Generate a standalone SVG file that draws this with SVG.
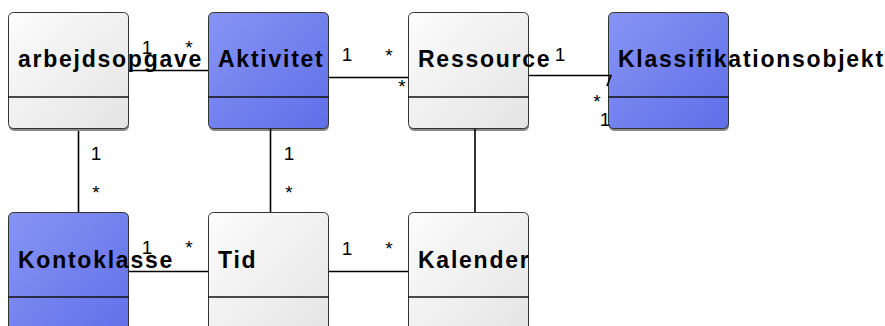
<svg xmlns="http://www.w3.org/2000/svg" width="885" height="326" viewBox="0 0 885 326">
  <defs>
    <linearGradient id="gWhite" x1="0" y1="0" x2="1" y2="1">
      <stop offset="0" stop-color="#fcfcfc"/>
      <stop offset="1" stop-color="#e4e4e4"/>
    </linearGradient>
    <linearGradient id="gBlue" x1="0" y1="0" x2="1" y2="1">
      <stop offset="0" stop-color="#8894f3"/>
      <stop offset="1" stop-color="#5f6fe9"/>
    </linearGradient>
  </defs>
  <style>
    .shadow { fill: #8a8a8a; }
    .box { stroke: #333333; stroke-width: 1; }
    .white { fill: url(#gWhite); }
    .blue { fill: url(#gBlue); }
    .div { stroke: #111111; stroke-width: 1.5; }
    .name { font-family: "Liberation Sans", Arial, sans-serif; font-weight: bold; font-size: 23px; letter-spacing: 1.75px; fill: #000000; }
    .conn line, .conn polyline { stroke: #000000; stroke-width: 1.6; fill: none; }
    .mult { font-family: "Liberation Sans", Arial, sans-serif; font-size: 19px; fill: #000000; text-anchor: middle; }
  </style>

  <!-- classes, top row -->
  <g id="arbejdsopgave">
    <rect class="shadow" x="9" y="14" width="120" height="117" rx="5"/>
    <rect class="box white" x="8.5" y="12.5" width="120" height="116" rx="5"/>
    <line class="div" x1="8" y1="97" x2="129" y2="97"/>
    <text class="name" x="18" y="67">arbejdsopgave</text>
  </g>
  <g id="aktivitet">
    <rect class="shadow" x="209" y="14" width="120" height="117" rx="5"/>
    <rect class="box blue" x="208.5" y="12.5" width="120" height="116" rx="5"/>
    <line class="div" x1="208" y1="97" x2="329" y2="97"/>
    <text class="name" x="218" y="67">Aktivitet</text>
  </g>
  <g id="ressource">
    <rect class="shadow" x="409" y="14" width="120" height="117" rx="5"/>
    <rect class="box white" x="408.5" y="12.5" width="120" height="116" rx="5"/>
    <line class="div" x1="408" y1="97" x2="529" y2="97"/>
    <text class="name" x="418" y="67">Ressource</text>
  </g>
  <g id="klassifikationsobjekt">
    <rect class="shadow" x="609" y="14" width="120" height="117" rx="5"/>
    <rect class="box blue" x="608.5" y="12.5" width="120" height="116" rx="5"/>
    <line class="div" x1="608" y1="97" x2="729" y2="97"/>
    <text class="name" x="618" y="67">Klassifikationsobjekt</text>
  </g>

  <!-- classes, bottom row -->
  <g id="kontoklasse">
    <rect class="box blue" x="8.5" y="212.5" width="120" height="130" rx="5"/>
    <line class="div" x1="8" y1="297" x2="129" y2="297"/>
    <text class="name" x="18" y="268">Kontoklasse</text>
  </g>
  <g id="tid">
    <rect class="box white" x="208.5" y="212.5" width="120" height="130" rx="5"/>
    <line class="div" x1="208" y1="297" x2="329" y2="297"/>
    <text class="name" x="218" y="268">Tid</text>
  </g>
  <g id="kalender">
    <rect class="box white" x="408.5" y="212.5" width="120" height="130" rx="5"/>
    <line class="div" x1="408" y1="297" x2="529" y2="297"/>
    <text class="name" x="418" y="268">Kalender</text>
  </g>

  <!-- associations -->
  <g class="conn" id="connectors">
    <line x1="129" y1="70.5" x2="208" y2="70.5"/>
    <line x1="329" y1="77.5" x2="408" y2="77.5"/>
    <polyline points="529,75.5 611,75.5 607,86"/>
    <line x1="78.5" y1="131" x2="78.5" y2="212"/>
    <line x1="270.5" y1="129" x2="270.5" y2="212"/>
    <line x1="475" y1="129" x2="475" y2="212"/>
    <line x1="129" y1="271.5" x2="208" y2="271.5"/>
    <line x1="329" y1="271.5" x2="408" y2="271.5"/>

    <text class="mult" x="147" y="54">1</text>
    <text class="mult" x="189" y="54">*</text>
    <text class="mult" x="347" y="61">1</text>
    <text class="mult" x="389" y="62">*</text>
    <text class="mult" x="402" y="93">*</text>
    <text class="mult" x="560" y="61">1</text>
    <text class="mult" x="597" y="108">*</text>
    <text class="mult" x="605" y="126">1</text>
    <text class="mult" x="96" y="160">1</text>
    <text class="mult" x="96" y="199">*</text>
    <text class="mult" x="289" y="160">1</text>
    <text class="mult" x="289" y="199">*</text>
    <text class="mult" x="147" y="254">1</text>
    <text class="mult" x="189" y="254">*</text>
    <text class="mult" x="347" y="255">1</text>
    <text class="mult" x="389" y="255">*</text>
  </g>
</svg>
